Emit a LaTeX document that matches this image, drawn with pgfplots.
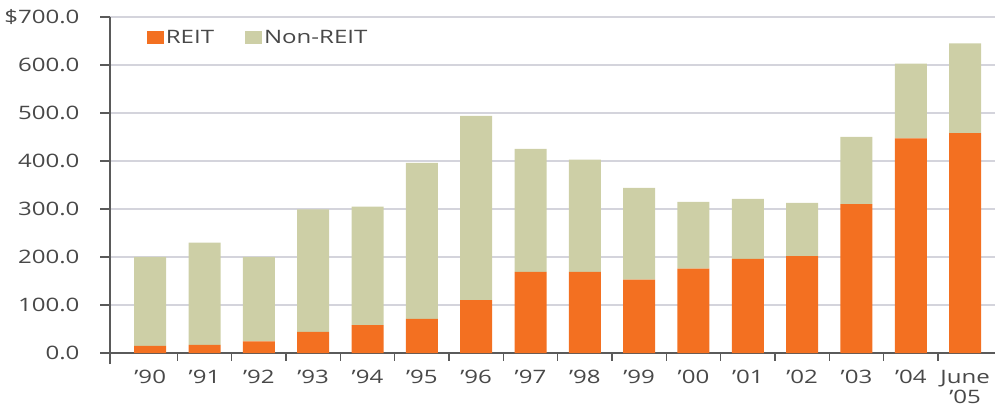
\documentclass[border=0pt]{standalone}
\usepackage{pgfplots}
\pgfplotsset{compat=1.18}
\usepackage{fontspec}
\setmainfont{Open Sans}[FakeStretch=1.3]
\definecolor{reit}{HTML}{F37021}
\definecolor{nonreit}{HTML}{CDCFA6}
\definecolor{gridc}{HTML}{D4D4DC}
\definecolor{axc}{HTML}{5A5A5A}
\definecolor{txt}{HTML}{484848}
\begin{document}
\begin{tikzpicture}
\useasboundingbox (0,0) rectangle (995bp,409bp);
\begin{axis}[
  at={(110bp,56bp)}, anchor=south west,
  scale only axis, width=885bp, height=336bp,
  ybar stacked, bar width=32bp,
  xmin=-0.74, xmax=15.55, ymin=0, ymax=700,
  axis x line*=bottom, axis y line*=left,
  axis line style={axc, line width=1.3bp},
  y axis line style={shorten <=-11bp},
  xtick={0,...,15},
  xticklabels={’90,’91,’92,’93,’94,’95,’96,’97,’98,’99,’00,’01,’02,’03,’04,June\\’05},
  major x tick style={draw=none},
  minor xtick={0.5,1.5,...,14.5},
  minor x tick style={axc, line width=1.3bp},
  minor tick length=8bp,
  tick align=outside,
  ytick={0,100,...,700},
  yticklabels={0.0,100.0,200.0,300.0,400.0,500.0,600.0,\$700.0},
  major tick length=10bp,
  y tick style={axc, line width=1.3bp},
  ymajorgrids, grid style={gridc, line width=1.2bp},
  every tick label/.append style={font=\fontsize{18.5bp}{20bp}\selectfont, text=txt},
  xticklabel style={align=center, yshift=-6bp, inner ysep=1bp},
  yticklabel style={xshift=-17bp},
  clip=false,
  legend columns=2,
  legend style={at={(rel axis cs:0.038,0.9375)}, anchor=west, draw=none, fill=none,
    font=\fontsize{18.5bp}{22bp}\selectfont, text=txt,
    /tikz/every even column/.append style={column sep=29bp}},
  legend image code/.code={\fill[#1] (0bp,-6.5bp) rectangle (17bp,6.5bp);},
]
\addplot[fill=reit, draw=none] coordinates {
(0,15) (1,17) (2,24) (3,44) (4,58) (5,71) (6,110) (7,169) (8,169) (9,153) (10,176) (11,196) (12,202) (13,310) (14,447) (15,458)};
\addplot[fill=nonreit, draw=none] coordinates {
(0,185) (1,213) (2,176) (3,255) (4,247) (5,325) (6,384) (7,256) (8,234) (9,191) (10,139) (11,125) (12,111) (13,140) (14,156) (15,187)};
\legend{REIT,Non-REIT}
\end{axis}
\end{tikzpicture}
\end{document}
